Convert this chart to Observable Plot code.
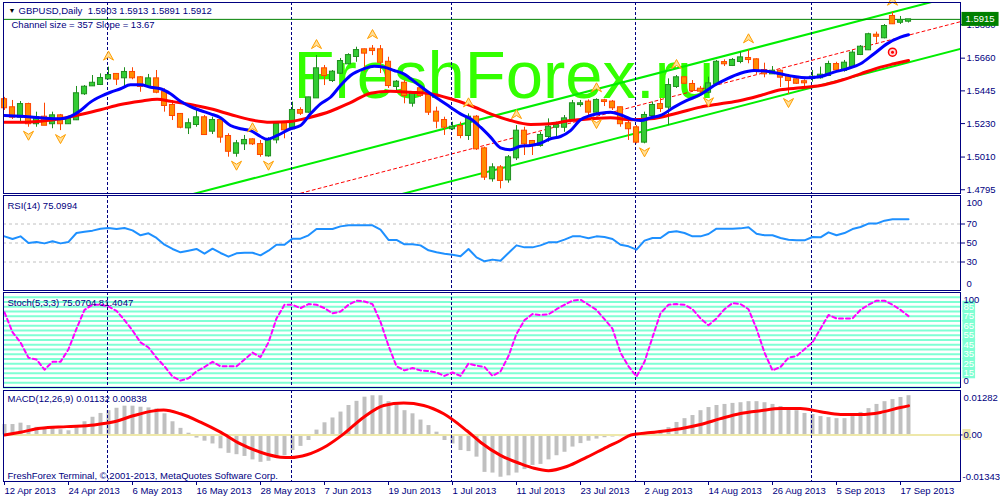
<!DOCTYPE html>
<html>
<head>
<meta charset="utf-8">
<script src="https://cdn.jsdelivr.net/npm/d3@7"></script>
<script src="https://cdn.jsdelivr.net/npm/@observablehq/plot@0.6"></script>
<style>
  html, body { margin: 0; padding: 0; background: #ffffff; }
  #chart { position: relative; width: 1000px; height: 500px; overflow: hidden; background: #ffffff; }
  #chart svg { position: absolute; left: 0; overflow: visible; }
</style>
</head>
<body>
<div id="chart"></div>
<script>
// ---------------- DATA ----------------
const symbolName = "GBPUSD,Daily";
const openPrices = [1.5387,1.5334,1.5272,1.5355,1.5229,1.5272,1.5229,1.5281,1.5229,1.5255,
1.5426,1.5478,1.5487,1.5524,1.5553,1.5531,1.5566,1.5531,1.5474,1.5524,
1.5436,1.5349,1.5290,1.5202,1.5224,1.5268,1.5180,1.5250,1.5145,1.5035,
1.5097,1.5123,1.5092,1.5018,1.5123,1.5229,1.5196,1.5316,1.5305,1.5399,
1.5590,1.5513,1.5561,1.5623,1.5671,1.5715,1.5719,1.5715,1.5633,1.5474,
1.5495,1.5364,1.5459,1.5415,1.5305,1.5250,1.5196,1.5211,1.5152,1.5272,
1.5064,1.4867,1.4939,1.4860,1.5005,1.5180,1.5112,1.5086,1.5145,1.5206,
1.5206,1.5255,1.5355,1.5371,1.5305,1.5380,1.5371,1.5334,1.5229,1.5202,
1.5108,1.5283,1.5355,1.5338,1.5474,1.5531,1.5487,1.5456,1.5436,1.5491,
1.5631,1.5612,1.5638,1.5658,1.5649,1.5579,1.5557,1.5574,1.5539,1.5518,
1.5505,1.5526,1.5531,1.5546,1.5618,1.5579,1.5605,1.5684,1.5715,1.5811,
1.5794,1.5934,1.5896,1.5903];
const highPrices = [1.5402,1.5382,1.5375,1.5364,1.5305,1.5364,1.5305,1.5290,1.5272,1.5474,
1.5480,1.5546,1.5557,1.5601,1.5557,1.5597,1.5597,1.5539,1.5553,1.5579,
1.5459,1.5382,1.5296,1.5261,1.5327,1.5283,1.5272,1.5255,1.5163,1.5119,
1.5152,1.5130,1.5119,1.5137,1.5237,1.5239,1.5371,1.5334,1.5403,1.5677,
1.5612,1.5579,1.5658,1.5689,1.5732,1.5720,1.5743,1.5743,1.5666,1.5513,
1.5513,1.5436,1.5480,1.5436,1.5338,1.5272,1.5239,1.5239,1.5294,1.5283,
1.5075,1.4966,1.4954,1.5020,1.5217,1.5206,1.5119,1.5173,1.5261,1.5239,
1.5283,1.5382,1.5382,1.5386,1.5393,1.5390,1.5382,1.5338,1.5255,1.5217,
1.5305,1.5371,1.5395,1.5524,1.5546,1.5539,1.5513,1.5474,1.5535,1.5645,
1.5649,1.5658,1.5699,1.5715,1.5656,1.5627,1.5605,1.5583,1.5553,1.5535,
1.5518,1.5579,1.5601,1.5640,1.5633,1.5645,1.5710,1.5743,1.5824,1.5831,
1.5881,1.5962,1.5934,1.5913];
const lowPrices = [1.5316,1.5257,1.5231,1.5206,1.5206,1.5217,1.5196,1.5184,1.5224,1.5250,
1.5415,1.5474,1.5480,1.5518,1.5480,1.5474,1.5518,1.5436,1.5469,1.5426,
1.5305,1.5250,1.5196,1.5158,1.5206,1.5152,1.5158,1.5101,1.5009,1.5009,
1.5053,1.5086,1.5009,1.5009,1.5097,1.5130,1.5189,1.5283,1.5298,1.5399,
1.5480,1.5500,1.5553,1.5618,1.5633,1.5568,1.5677,1.5559,1.5461,1.5447,
1.5360,1.5338,1.5403,1.5283,1.5196,1.5152,1.5184,1.5130,1.5119,1.5053,
1.4856,1.4845,1.4801,1.4838,1.4987,1.5020,1.5020,1.5075,1.5108,1.5141,
1.5173,1.5250,1.5338,1.5283,1.5283,1.5342,1.5316,1.5206,1.5119,1.5097,
1.5097,1.5277,1.5303,1.5217,1.5461,1.5487,1.5436,1.5428,1.5426,1.5480,
1.5605,1.5605,1.5623,1.5623,1.5553,1.5531,1.5553,1.5467,1.5421,1.5487,
1.5452,1.5502,1.5522,1.5539,1.5568,1.5568,1.5601,1.5677,1.5710,1.5758,
1.5787,1.5881,1.5881,1.5891];
const closePrices = [1.5334,1.5272,1.5355,1.5229,1.5268,1.5219,1.5281,1.5229,1.5261,1.5426,
1.5469,1.5495,1.5526,1.5546,1.5522,1.5566,1.5531,1.5474,1.5524,1.5436,
1.5349,1.5283,1.5206,1.5229,1.5268,1.5158,1.5250,1.5141,1.5048,1.5097,
1.5119,1.5097,1.5027,1.5123,1.5224,1.5189,1.5316,1.5298,1.5399,1.5590,
1.5546,1.5568,1.5638,1.5677,1.5710,1.5693,1.5710,1.5633,1.5480,1.5502,
1.5415,1.5426,1.5415,1.5305,1.5246,1.5206,1.5206,1.5152,1.5272,1.5064,
1.4878,1.4939,1.4856,1.5005,1.5180,1.5097,1.5086,1.5152,1.5206,1.5217,
1.5261,1.5360,1.5360,1.5305,1.5382,1.5375,1.5334,1.5229,1.5196,1.5108,
1.5283,1.5349,1.5329,1.5480,1.5531,1.5495,1.5447,1.5443,1.5491,1.5633,
1.5623,1.5645,1.5662,1.5651,1.5579,1.5557,1.5574,1.5535,1.5513,1.5495,
1.5498,1.5535,1.5548,1.5618,1.5583,1.5627,1.5693,1.5732,1.5814,1.5804,
1.5868,1.5886,1.5907,1.5912];

// fast (blue) and slow (red) moving averages, read at bar positions
const blueMaBars = [0,2,4.5,7,8.25,9.5,10.75,12,13.25,14.5,15.75,17,18.25,19.5,20.75,22,23.25,24.5,25.75,27,28.25,29.5,30.75,32,32.8,34.1,35.75,37,38.25,39.5,40.75,42,43.25,44.9,46.2,47.4,48.7,49.9,51.6,53.25,54.5,55.75,57,58.25,59.5,60.75,62,63.25,64.5,65.75,67,68.25,69.5,70.75,72,73.25,74.5,75.75,77,78.25,79.5,80.75,82,83.7,85.3,87,88.7,90.3,92,93.7,95.3,97,98.7,100.3,102,103.7,105.3,107,108.7,110.3,112,113];
const blueMaValues = [1.5283,1.5278,1.5268,1.5261,1.5277,1.5316,1.5371,1.5408,1.5436,1.5459,1.5485,1.5485,1.5469,1.5459,1.5426,1.5377,1.5342,1.5316,1.5294,1.5268,1.5217,1.5196,1.5184,1.5145,1.5127,1.5152,1.5196,1.5217,1.5294,1.5360,1.5403,1.5480,1.5546,1.5590,1.5607,1.5601,1.5579,1.5557,1.5491,1.5426,1.5382,1.5338,1.5294,1.5261,1.5206,1.5141,1.5071,1.5058,1.5081,1.5086,1.5101,1.5130,1.5145,1.5184,1.5255,1.5283,1.5298,1.5305,1.5288,1.5261,1.5250,1.5268,1.5283,1.5338,1.5382,1.5421,1.5480,1.5524,1.5561,1.5579,1.5574,1.5557,1.5539,1.5531,1.5539,1.5568,1.5590,1.5623,1.5689,1.5754,1.5798,1.5814];
const redMaBars = [0,2,4.5,7,9.5,12,14.5,17,19.1,20.75,23.25,25.75,28.25,30.75,33.25,35.75,38.25,40.75,43.25,45.75,48.25,50.75,53.25,55.75,58.25,60.75,63.25,65.75,68.25,70.75,73.25,75.75,78.25,80.75,82,84.5,87,89.5,92,94.5,97,99.5,102,104.5,107,109.5,111.2,113];
const redMaValues = [1.5239,1.5239,1.5246,1.5261,1.5290,1.5321,1.5355,1.5377,1.5390,1.5377,1.5355,1.5327,1.5290,1.5255,1.5239,1.5244,1.5272,1.5311,1.5368,1.5430,1.5443,1.5436,1.5426,1.5393,1.5349,1.5294,1.5250,1.5224,1.5229,1.5250,1.5261,1.5268,1.5255,1.5261,1.5272,1.5305,1.5338,1.5360,1.5382,1.5415,1.5452,1.5465,1.5480,1.5513,1.5557,1.5601,1.5623,1.5645];

// fractals
const upFractalBars = [13,31,39,46,58,64,74,84,93,111];
const downFractalBars = [3,7,29,33,74,80,88,98];
const targetBar = 111, targetPrice = 1.5699;

// linear regression channel
const channelSize = 357, channelSlope = 13.67, pointSize = 0.0001;
const channelEndBar = 113, channelEndMid = 1.5811, channelFromBar = 0, channelToBar = 119.5;

const lastPrice = 1.5915;
const priceTicks = [1.4795, 1.5010, 1.5230, 1.5445, 1.5660, 1.5880];
const priceDomain = [1.47704, 1.60259];
const monthStartBars = [13, 36, 56, 79, 101];

const rsiValues = [57.0,54.2,57.0,50.0,51.1,49.6,51.8,49.6,51.1,60.5,
61.9,63.0,65.1,65.8,64.7,65.8,63.3,58.1,60.2,55.3,
48.2,43.7,40.2,41.9,43.7,38.8,44.0,39.5,35.6,39.1,
39.8,39.8,37.0,41.9,48.2,48.2,54.6,54.6,58.1,64.7,
64.7,64.7,67.5,68.6,68.6,68.6,68.6,64.0,53.2,53.2,
48.6,48.6,47.5,42.3,40.2,38.8,37.7,36.0,43.7,34.9,
30.7,32.5,31.4,39.5,47.5,45.4,45.4,47.5,50.7,50.7,
53.5,57.0,57.0,54.9,57.0,56.3,54.2,48.2,46.5,43.0,
52.5,55.3,55.3,61.2,62.3,60.5,57.0,57.0,59.5,65.1,
65.1,65.1,65.4,66.5,59.8,58.1,58.1,55.3,53.5,52.8,
52.8,56.3,56.0,61.2,58.1,60.5,64.7,66.8,70.4,70.4,
73.5,74.9,74.9,75.1];
const rsiLevels = [30, 50, 70];

const stochValues = [79.1,58.3,47.5,31.3,29.5,18.7,27.0,27.0,40.3,61.9,
81.7,87.1,87.1,85.3,80.6,70.9,60.1,47.5,42.1,31.3,
22.3,11.5,7.2,9.7,16.9,21.6,27.0,22.3,22.3,22.3,
29.5,36.7,32.0,47.5,72.7,87.1,87.1,83.5,87.8,87.1,
83.5,78.1,79.9,87.1,91.4,90.6,87.8,69.1,43.9,22.3,
18.0,20.5,18.0,17.3,15.8,12.2,15.8,12.2,25.2,23.0,
21.6,12.2,16.9,33.1,56.5,70.9,77.3,76.3,77.0,82.4,
87.1,91.4,92.4,87.1,81.7,71.9,61.9,36.7,22.3,11.5,
27.0,52.9,78.1,87.1,87.8,87.1,82.4,72.7,65.5,72.7,
82.4,88.8,87.8,82.4,61.9,36.7,18.0,21.6,31.3,33.1,
40.3,47.5,61.9,76.3,72.7,72.7,72.7,81.7,87.1,91.4,
91.4,87.1,81.7,75.1];
const stochStripeLevels = [0,5,10,15,20,25,30,35,40,45,50,55,60,65,70,75,80,85,90,95];
const stochLabelLevels = [15,25,35,45,55,65,75,85];

const macdHist = [0.0030,0.0030,0.0034,0.0027,0.0022,0.0022,0.0022,0.0015,0.0012,0.0024,
0.0038,0.0051,0.0062,0.0070,0.0077,0.0083,0.0083,0.0080,0.0078,0.0075,
0.0061,0.0038,0.0019,0.0005,-0.0009,-0.0018,-0.0026,-0.0040,-0.0053,-0.0057,
-0.0062,-0.0072,-0.0079,-0.0076,-0.0066,-0.0060,-0.0045,-0.0033,-0.0016,0.0014,
0.0035,0.0049,0.0066,0.0085,0.0097,0.0109,0.0113,0.0113,0.0096,0.0087,
0.0070,0.0061,0.0043,0.0027,0.0008,-0.0016,-0.0026,-0.0045,-0.0048,-0.0064,
-0.0108,-0.0110,-0.0122,-0.0118,-0.0110,-0.0100,-0.0088,-0.0085,-0.0072,-0.0060,
-0.0050,-0.0035,-0.0025,-0.0018,-0.0012,-0.0008,-0.0006,-0.0005,-0.0003,-0.0004,
0.0002,0.0007,0.0013,0.0021,0.0036,0.0047,0.0056,0.0070,0.0079,0.0085,
0.0088,0.0091,0.0093,0.0096,0.0096,0.0093,0.0088,0.0082,0.0076,0.0070,
0.0062,0.0059,0.0053,0.0050,0.0047,0.0047,0.0053,0.0065,0.0076,0.0088,
0.0096,0.0102,0.0108,0.01132];
const signalBars = [0,2,4.5,7.8,11.2,13.7,16.2,18.25,19.9,22,24.5,27,29.5,32,34.5,35.75,37.8,40.3,42.4,44.9,47.4,49.9,52.4,54.9,57.8,59.5,62,64.5,66.2,68,70.3,72.8,75.3,77,78.3,80.75,84.5,87,89.5,92,94.5,97,99.5,102,104.5,107,109.5,112,113];
const signalValues = [0,0.0008,0.0019,0.0024,0.0029,0.0038,0.0056,0.0068,0.0072,0.0061,0.0037,0.0008,-0.0026,-0.0050,-0.0064,-0.0065,-0.0057,-0.0031,0.0003,0.0051,0.0085,0.0092,0.0085,0.0061,0.0012,-0.0021,-0.0059,-0.0083,-0.0096,-0.0103,-0.0091,-0.0064,-0.0035,-0.0016,0.0000,0.0007,0.0018,0.0030,0.0047,0.0062,0.0070,0.0076,0.0076,0.0067,0.0059,0.0059,0.0065,0.0079,0.00838];
const macdMax = 0.01282, macdMin = -0.01343;

const dateTickBars = [0,8,16,24,32,40,48,56,64,72,80,88,96,104,112];
const dateTickLabels = ["12 Apr 2013","24 Apr 2013","6 May 2013","16 May 2013","28 May 2013","7 Jun 2013","19 Jun 2013","1 Jul 2013","11 Jul 2013","23 Jul 2013","2 Aug 2013","14 Aug 2013","26 Aug 2013","5 Sep 2013","17 Sep 2013"];

// ---------------- BUILD ----------------
const FONT = "'Liberation Sans', Arial, sans-serif";
const NAVY = "#000080";
const X_DOMAIN = [-0.125, 119.5];
const baseStyle = {background: "transparent", color: NAVY, fontFamily: FONT, fontSize: "9.5px", overflow: "visible"};

const n = openPrices.length;
[highPrices, lowPrices, closePrices, rsiValues, stochValues, macdHist].forEach((a, k) => { if (a.length !== n) console.error("length mismatch", k, a.length); });

const candles = openPrices.map((o, i) => ({i, open: o, high: highPrices[i], low: lowPrices[i], close: closePrices[i]}));
const isBull = d => d.close >= d.open;
const blueMa = blueMaBars.map((b, k) => ({bar: b, value: blueMaValues[k]}));
const redMa = redMaBars.map((b, k) => ({bar: b, value: redMaValues[k]}));
const signal = signalBars.map((b, k) => ({bar: b, value: signalValues[k]}));
const upFractals = upFractalBars.map(i => candles[i]);
const downFractals = downFractalBars.map(i => candles[i]);
const last = candles[n - 1];

function channelLine(offset) {
  return [channelFromBar, channelToBar].map(b => ({bar: b, price: channelEndMid + (b - channelEndBar) * channelSlope * pointSize + offset}));
}
const halfWidth = channelSize / 2 * pointSize;

const arrowUp = {draw(ctx, size) { const r = Math.sqrt(size / Math.PI); ctx.moveTo(0, -r); ctx.lineTo(r, r * 0.8); ctx.lineTo(0, r * 0.2); ctx.lineTo(-r, r * 0.8); ctx.closePath(); }};
const arrowDown = {draw(ctx, size) { const r = Math.sqrt(size / Math.PI); ctx.moveTo(0, r); ctx.lineTo(r, -r * 0.8); ctx.lineTo(0, -r * 0.2); ctx.lineTo(-r, -r * 0.8); ctx.closePath(); }};

const monthRules = () => Plot.ruleX(monthStartBars, {x: d => d, dx: -1, stroke: NAVY, strokeDasharray: "3,2"});
const title = (txt, dy, extra = {}) => Plot.text([txt], {frameAnchor: "top-left", dx: 4, dy, lineAnchor: "middle", textAnchor: "start", fill: NAVY, text: d => d, ...extra});
const rightLabel = (v, dy, txt, extra = {}) => Plot.text([v], {y: d => d, frameAnchor: "right", dx: 6, dy, textAnchor: "start", lineAnchor: "middle", fill: NAVY, text: () => txt, ...extra});

const mainPlot = Plot.plot({
  width: 1000, height: 195, marginLeft: 3, marginRight: 40, marginTop: 2, marginBottom: 2,
  x: {domain: X_DOMAIN, axis: null},
  y: {domain: priceDomain},
  style: baseStyle,
  marks: [
    Plot.text(["FreshForex.ru"], {frameAnchor: "top-left", textAnchor: "start", lineAnchor: "top", dx: 290, dy: 48, fontSize: 67, fill: "#33ff00", text: d => d}),
    Plot.line(channelLine(halfWidth), {x: "bar", y: "price", stroke: "#00ee00", strokeWidth: 2, clip: true}),
    Plot.line(channelLine(-halfWidth), {x: "bar", y: "price", stroke: "#00ee00", strokeWidth: 2, clip: true}),
    Plot.line(channelLine(0), {x: "bar", y: "price", stroke: "#ff0000", strokeWidth: 1, strokeDasharray: "3,3", clip: true}),
    monthRules(),
    Plot.ruleY([lastPrice], {stroke: "#008000"}),
    Plot.ruleX(candles, {x: "i", y1: "low", y2: "high", stroke: d => isBull(d) ? "#1f8f1f" : "#ff4500"}),
    Plot.rect(candles, {x1: d => d.i - 0.32, x2: d => d.i + 0.32, y1: "open", y2: "close", insetTop: -0.5, insetBottom: -0.5,
      fill: d => isBull(d) ? "#33cc33" : "#ff8c00", stroke: d => isBull(d) ? "#1f8f1f" : "#ff4500"}),
    Plot.line(redMa, {x: "bar", y: "value", stroke: "#ff0000", strokeWidth: 3, curve: "monotone-x"}),
    Plot.line(blueMa, {x: "bar", y: "value", stroke: "#0000ff", strokeWidth: 3, curve: "monotone-x"}),
    Plot.dot(upFractals, {x: "i", y: "high", symbol: arrowUp, r: 5, dy: -11, fill: "#ffdf9a", stroke: "#ff9f00", strokeWidth: 1}),
    Plot.dot(downFractals, {x: "i", y: "low", symbol: arrowDown, r: 5, dy: 8, fill: "#ffdf9a", stroke: "#ff9f00", strokeWidth: 1}),
    Plot.dot([{bar: targetBar, price: targetPrice}], {x: "bar", y: "price", r: 4, stroke: "#ff0000", fill: "#ffd8d8", strokeWidth: 1.5}),
    Plot.dot([{bar: targetBar, price: targetPrice}], {x: "bar", y: "price", r: 1.5, fill: "#ff0000"}),
    title("\u25BC", 8, {fill: "#000000", fontSize: 7, dx: 5}),
    title(`${symbolName}\u00a0 ${last.open.toFixed(4)} ${last.high.toFixed(4)} ${last.low.toFixed(4)} ${last.close.toFixed(4)}`, 8, {dx: 15}),
    title(`Channel size = ${channelSize} Slope = ${channelSlope.toFixed(2)}`, 22, {dx: 8}),
    Plot.axisY(priceTicks, {anchor: "right", label: null, tickSize: 4, tickPadding: 2, tickFormat: d => d.toFixed(4)}),
    rightLabel(lastPrice, 0, lastPrice.toFixed(4), {fill: "#ffffff", dx: 5}),
    Plot.frame({stroke: NAVY})
  ]
});

const rsiPlot = Plot.plot({
  width: 1000, height: 97, marginLeft: 3, marginRight: 40, marginTop: 1, marginBottom: 1,
  x: {domain: X_DOMAIN, axis: null},
  y: {domain: [0, 100]},
  style: baseStyle,
  marks: [
    Plot.ruleY(rsiLevels, {stroke: "#c0c0c0", strokeDasharray: "3,3"}),
    monthRules(),
    Plot.line(rsiValues, {x: (d, i) => i, y: d => d, stroke: "#1e90ff", strokeWidth: 2}),
    title("RSI(14) 75.0994", 10),
    Plot.axisY(rsiLevels, {anchor: "right", label: null, tickSize: 4, tickPadding: 2, tickFormat: d => String(d)}),
    rightLabel(100, 7, "100"),
    rightLabel(0, -7, "0"),
    Plot.frame({stroke: NAVY})
  ]
});

const stochPlot = Plot.plot({
  width: 1000, height: 97, marginLeft: 3, marginRight: 40, marginTop: 1, marginBottom: 1,
  x: {domain: X_DOMAIN, axis: null},
  y: {domain: [0, 100], axis: null},
  style: baseStyle,
  marks: [
    Plot.ruleY(stochStripeLevels, {stroke: "#7fffd4", strokeWidth: 2}),
    monthRules(),
    Plot.line(stochValues, {x: (d, i) => i, y: d => d, stroke: "#ff00ff", strokeWidth: 2, strokeDasharray: "4,3"}),
    title("Stoch(5,3,3) 75.0704 81.4047", 10),
    Plot.text(stochLabelLevels, {y: d => d, frameAnchor: "right", dx: 3, textAnchor: "start", lineAnchor: "middle", fill: "#ffffff", text: d => String(d)}),
    rightLabel(100, 7, "100", {dx: 3}),
    rightLabel(0, -7, "0", {dx: 3}),
    Plot.frame({stroke: NAVY})
  ]
});

const dateLabel = new Map(dateTickBars.map((b, k) => [b, dateTickLabels[k]]));
const macdPlot = Plot.plot({
  width: 1000, height: 111, marginLeft: 3, marginRight: 40, marginTop: 1, marginBottom: 19,
  x: {domain: X_DOMAIN},
  y: {domain: [macdMin, macdMax]},
  style: baseStyle,
  marks: [
    Plot.ruleX(macdHist, {x: (d, i) => i, y1: 0, y2: d => d, stroke: "#c0c0c0", strokeWidth: 4}),
    Plot.ruleY([0], {stroke: "#eee8aa", strokeWidth: 2}),
    monthRules(),
    Plot.line(signal, {x: "bar", y: "value", stroke: "#ff0000", strokeWidth: 3, curve: "monotone-x"}),
    title(`MACD(12,26,9) ${macdHist[n - 1].toFixed(5)} ${signalValues[signalValues.length - 1].toFixed(5)}`, 8.5),
    Plot.text(["FreshForex Terminal, \u00a9,2001-2013, MetaQuotes Software Corp."], {frameAnchor: "bottom-left", dx: 4, dy: -6, lineAnchor: "middle", textAnchor: "start", fill: NAVY, text: d => d}),
    Plot.axisY([0], {anchor: "right", label: null, tickSize: 4, tickPadding: 2, tickFormat: () => ""}),
    rightLabel(0, 0, "0.00", {dx: 3}),
    rightLabel(macdMax, 7, macdMax.toFixed(5), {dx: 3}),
    rightLabel(macdMin, -5, macdMin.toFixed(5), {dx: 2}),
    Plot.axisX(dateTickBars, {anchor: "bottom", label: null, tickSize: 4, tickPadding: 2, textAnchor: "start", tickFormat: d => dateLabel.get(d)}),
    Plot.frame({stroke: NAVY})
  ]
});

const chart = document.getElementById("chart");
[[mainPlot, 0], [rsiPlot, 194], [stochPlot, 291], [macdPlot, 389]].forEach(([svg, top]) => {
  svg.style.top = top + "px";
  chart.appendChild(svg);
});

// label background boxes (MetaTrader style), placed behind matching texts
function addBoxes(svg, match, fill, padX, padY, maxW) {
  Array.from(svg.querySelectorAll("text")).filter(match).forEach(t => {
    const b = t.getBBox();
    const r = document.createElementNS("http://www.w3.org/2000/svg", "rect");
    const w = maxW ? Math.min(maxW, b.width + 2 * padX) : b.width + 2 * padX;
    r.setAttribute("x", b.x - padX);
    r.setAttribute("y", b.y - padY);
    r.setAttribute("width", w);
    r.setAttribute("height", b.height + 2 * padY);
    r.setAttribute("fill", fill);
    const tr = t.getAttribute("transform");
    if (tr) r.setAttribute("transform", tr);
    t.parentNode.insertBefore(r, t);
  });
}
const fillOf = t => (t.getAttribute("fill") || (t.parentNode && t.parentNode.getAttribute && t.parentNode.getAttribute("fill")) || "").toLowerCase();
addBoxes(mainPlot, t => t.textContent === lastPrice.toFixed(4) && fillOf(t) === "#ffffff", "#008000", 4, 1.5);
addBoxes(stochPlot, t => fillOf(t) === "#ffffff" && stochLabelLevels.map(String).includes(t.textContent), "#7fffd4", 1, 0);
addBoxes(macdPlot, t => t.textContent === "0.00", "#eee8aa", 1, 0, 8);
</script>
</body>
</html>
